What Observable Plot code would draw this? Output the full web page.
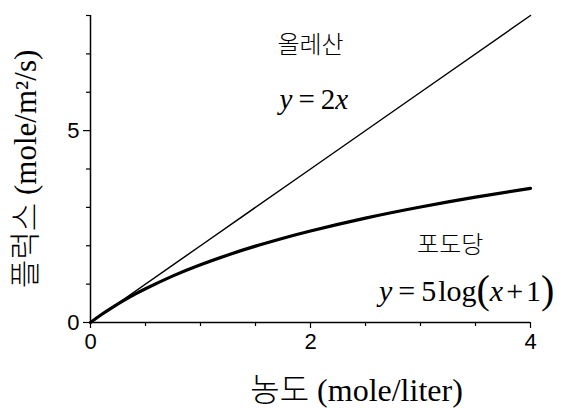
<!DOCTYPE html>
<html>
<head>
<meta charset="utf-8">
<script src="https://cdn.jsdelivr.net/npm/d3@7"></script>
<script src="https://cdn.jsdelivr.net/npm/@observablehq/plot@0.6"></script>
<style>
  html, body { margin: 0; padding: 0; background: #fff; }
  svg { overflow: visible; }
</style>
</head>
<body>
<div id="chart"></div>
<script>
// Oleic acid: y = 2x
const oleicConc = [0, 1, 2, 3, 4];
const oleicFlux = [0, 2, 4, 6, 8];

// Glucose: y = 5 log(x + 1)
const glucoseConc = [0, 0.1, 0.2, 0.3, 0.4, 0.5, 0.75, 1, 1.25, 1.5, 1.75, 2, 2.5, 3, 3.5, 4];
const glucoseFlux = [0, 0.207, 0.396, 0.570, 0.731, 0.880, 1.215, 1.505, 1.761, 1.990, 2.197, 2.386, 2.720, 3.010, 3.266, 3.495];

const xMajor = [0, 2, 4];
const xMinor = [0.5, 1, 1.5, 2.5, 3, 3.5];
const yMajor = [0, 5];
const yMinor = [1, 2, 3, 4, 6, 7, 8];

const xTitle = "농도 (mole/liter)";
const yTitle = "플럭스 (mole/m²/s)";
const oleicName = "올레산";
const glucoseName = "포도당";
const oleicEq = "y = 2x";
const glucoseEq = "y = 5log(x+1)";

const oleic = oleicConc.map((c, i) => ({c, f: oleicFlux[i]}));
const glucose = glucoseConc.map((c, i) => ({c, f: glucoseFlux[i]}));

const sans = "'Liberation Sans', Arial, sans-serif";
const serif = "'Liberation Serif', 'Times New Roman', 'Noto Sans CJK KR', serif";
const kr = "'Noto Sans CJK KR', sans-serif";

const chart = Plot.plot({
  width: 566,
  height: 408,
  marginLeft: 90,
  marginRight: 36,
  marginTop: 15,
  marginBottom: 86,
  x: {domain: [0, 4]},
  y: {domain: [0, 8]},
  style: {fontFamily: sans, color: "#000", background: "#fff"},
  marks: [
    Plot.axisX({ticks: xMinor, tickSize: 4, tickFormat: () => "", label: null, strokeWidth: 1.2}),
    Plot.axisX({ticks: xMajor, tickSize: 6, tickPadding: 5, tickFormat: d => String(d), label: null, fontSize: 22, strokeWidth: 1.2}),
    Plot.axisY({ticks: yMinor, tickSize: 4, tickFormat: () => "", label: null, strokeWidth: 1.2}),
    Plot.axisY({ticks: yMajor, tickSize: 7, tickPadding: 4, tickFormat: d => String(d), label: null, fontSize: 22, strokeWidth: 1.2}),
    Plot.ruleX([0], {strokeWidth: 1.5}),
    Plot.ruleY([0], {strokeWidth: 1.5}),
    Plot.line(oleic, {x: "c", y: "f", stroke: "#000", strokeWidth: 1.5}),
    Plot.line(glucose, {x: "c", y: "f", stroke: "#000", strokeWidth: 3.2, curve: "natural"}),
    // series names
    Plot.text([oleicName], {x: 2.0, y: 7.22, fontFamily: kr, fontWeight: 300, fontSize: 24, fill: "#000"}),
    Plot.text([glucoseName], {x: 3.27, y: 2.0, fontFamily: kr, fontWeight: 300, fontSize: 24, fill: "#000"}),
    // equations
    Plot.text([oleicEq], {x: 2.03, y: 5.8, fontFamily: serif, fontSize: 29, fill: "#000"}),
    Plot.text([glucoseEq], {x: 3.42, y: 0.82, fontFamily: serif, fontSize: 30, fill: "#000"}),
    // axis titles
    Plot.text([xTitle], {frameAnchor: "bottom", textAnchor: "middle", lineAnchor: "middle", dx: 46, dy: 68, fontFamily: serif, fontWeight: 300, fontSize: 32, fill: "#000"}),
    Plot.text([yTitle], {frameAnchor: "left", textAnchor: "middle", lineAnchor: "middle", dx: -64, dy: 0, rotate: -90, fontFamily: serif, fontWeight: 300, fontSize: 31, fill: "#000"})
  ]
});

// Typeset the equations: italic variables, spaced operators, tall parentheses
const equationMarkup = {
  [oleicEq]:
    '<tspan font-style="italic">y</tspan>' +
    '<tspan dx="6">=</tspan>' +
    '<tspan dx="6">2</tspan>' +
    '<tspan font-style="italic">x</tspan>',
  [glucoseEq]:
    '<tspan font-style="italic">y</tspan>' +
    '<tspan dx="6">=</tspan>' +
    '<tspan dx="6">5</tspan>' +
    '<tspan dx="2">log</tspan>' +
    '<tspan font-size="40" dy="2">(</tspan>' +
    '<tspan font-style="italic" dy="-2">x</tspan>' +
    '<tspan dx="3">+</tspan>' +
    '<tspan dx="3">1</tspan>' +
    '<tspan font-size="40" dy="2">)</tspan>'
};
for (const t of chart.querySelectorAll("text")) {
  const markup = equationMarkup[t.textContent];
  if (markup) t.innerHTML = markup;
}

document.getElementById("chart").appendChild(chart);
</script>
</body>
</html>
